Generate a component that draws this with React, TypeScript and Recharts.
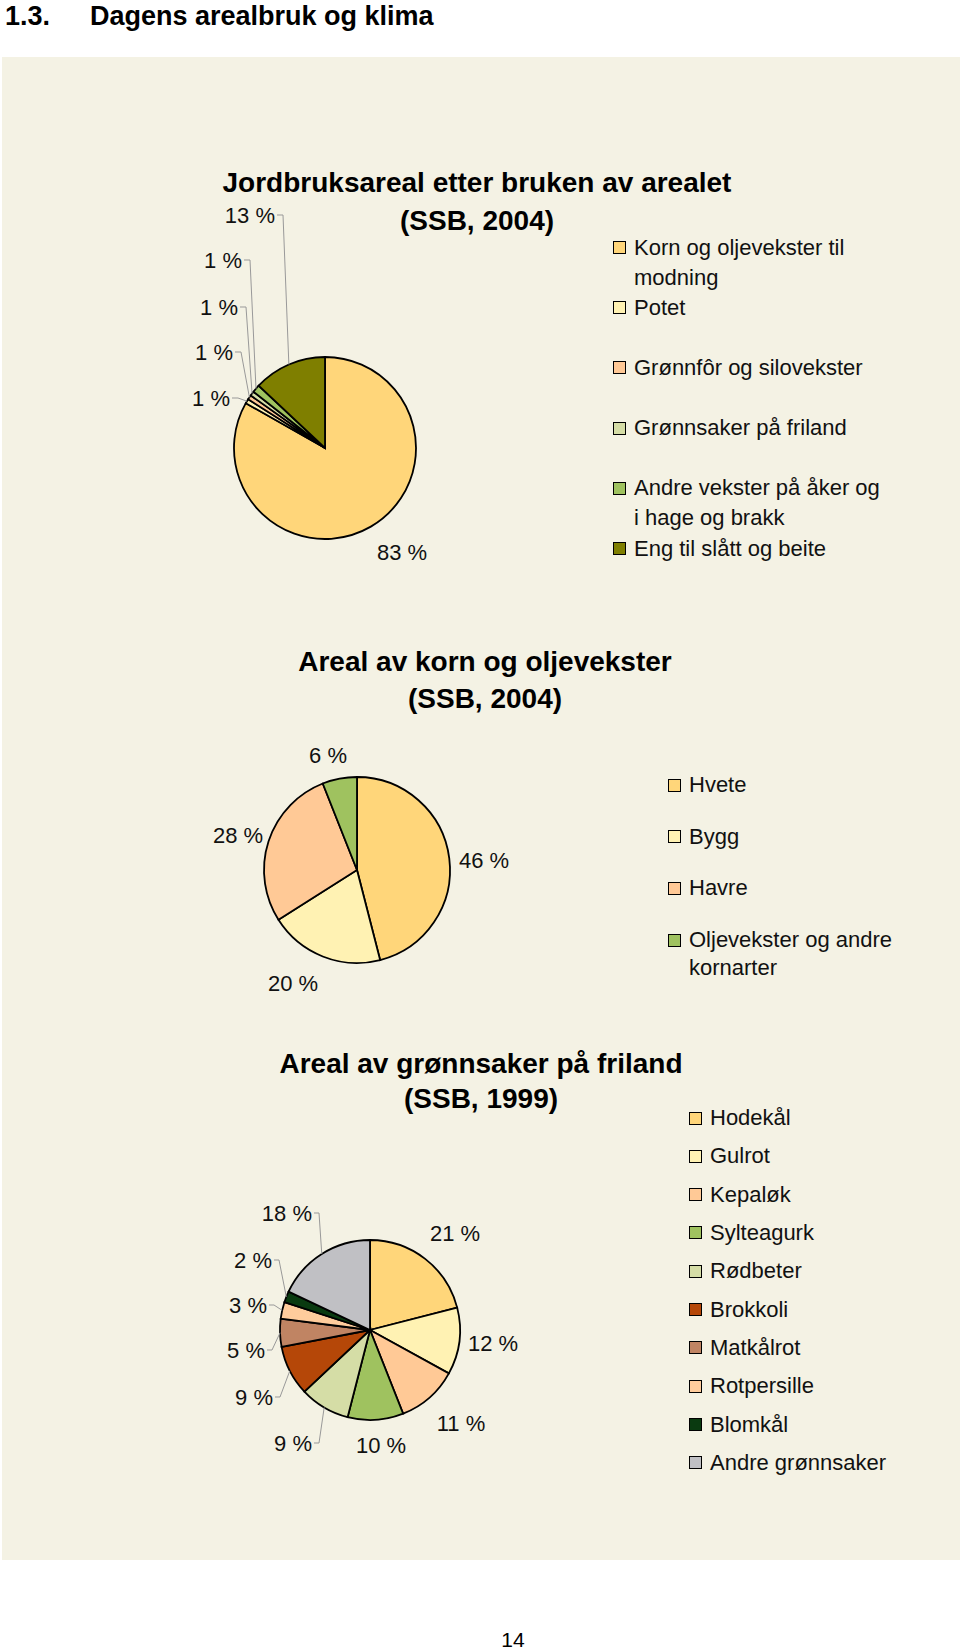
import React from 'react';
import { PieChart, Pie, Cell, Legend } from 'recharts';

const FONT = '"Liberation Sans", Arial, Helvetica, sans-serif';
const BG = '#F4F2E4';

// ---------- Chart 1: Jordbruksareal etter bruken av arealet (SSB, 2004) ----------
const landUseCategories = [
  'Korn og oljevekster til modning',
  'Potet',
  'Grønnfôr og silovekster',
  'Grønnsaker på friland',
  'Andre vekster på åker og i hage og brakk',
  'Eng til slått og beite',
];
const landUseValues = [83.2, 0.8, 0.8, 0.8, 1.4, 13.0];
const landUseColors = ['#FFD67A', '#FFF2B3', '#FFC996', '#D5DDA6', '#9FC25F', '#7F7F00'];

// ---------- Chart 2: Areal av korn og oljevekster (SSB, 2004) ----------
const grainCategories = ['Hvete', 'Bygg', 'Havre', 'Oljevekster og andre kornarter'];
const grainValues = [46, 20, 28, 6];
const grainColors = ['#FFD67A', '#FFF2B3', '#FFC996', '#9FC25F'];

// ---------- Chart 3: Areal av grønnsaker på friland (SSB, 1999) ----------
const vegCategories = [
  'Hodekål',
  'Gulrot',
  'Kepaløk',
  'Sylteagurk',
  'Rødbeter',
  'Brokkoli',
  'Matkålrot',
  'Rotpersille',
  'Blomkål',
  'Andre grønnsaker',
];
const vegValues = [21, 12, 11, 10, 9, 9, 5, 3, 2, 18];
const vegColors = [
  '#FFD67A', '#FFF2B3', '#FFC996', '#9FC25F', '#D5DDA6',
  '#B54708', '#C08463', '#FFCC9C', '#0A3A10', '#C0C0C4',
];

// ---------- label placement (relative to pie centre) ----------
type LabelSpot = { dx: number; dy: number; anchor: 'start' | 'middle' | 'end'; leader: boolean };

const landUseLabelSpots: LabelSpot[] = [
  { dx: 77, dy: 104, anchor: 'middle', leader: false },
  { dx: -95, dy: -50, anchor: 'end', leader: true },
  { dx: -92, dy: -96, anchor: 'end', leader: true },
  { dx: -87, dy: -141, anchor: 'end', leader: true },
  { dx: -83, dy: -188, anchor: 'end', leader: true },
  { dx: -50, dy: -233, anchor: 'end', leader: true },
];
const grainLabelSpots: LabelSpot[] = [
  { dx: 127, dy: -10, anchor: 'middle', leader: false },
  { dx: -64, dy: 113, anchor: 'middle', leader: false },
  { dx: -119, dy: -35, anchor: 'middle', leader: false },
  { dx: -29, dy: -115, anchor: 'middle', leader: false },
];
const vegLabelSpots: LabelSpot[] = [
  { dx: 85, dy: -97, anchor: 'middle', leader: false },
  { dx: 123, dy: 13, anchor: 'middle', leader: false },
  { dx: 91, dy: 93, anchor: 'middle', leader: false },
  { dx: 11, dy: 115, anchor: 'middle', leader: false },
  { dx: -58, dy: 113, anchor: 'end', leader: true },
  { dx: -97, dy: 67, anchor: 'end', leader: true },
  { dx: -105, dy: 20, anchor: 'end', leader: true },
  { dx: -103, dy: -25, anchor: 'end', leader: true },
  { dx: -98, dy: -70, anchor: 'end', leader: true },
  { dx: -58, dy: -117, anchor: 'end', leader: true },
];

const RAD = Math.PI / 180;

function makeLabel(spots: LabelSpot[], values: number[], tick: number) {
  return (props: any) => {
    const { cx, cy, midAngle, outerRadius, index } = props;
    const s = spots[index];
    const x = Number(cx) + s.dx;
    const y = Number(cy) + s.dy;
    let line: React.ReactNode = null;
    if (s.leader) {
      const ax = Number(cx) + outerRadius * Math.cos(-midAngle * RAD);
      const ay = Number(cy) + outerRadius * Math.sin(-midAngle * RAD);
      const sx = x + 2;
      line = (
        <polyline
          points={`${sx},${y} ${sx + tick},${y} ${ax},${ay}`}
          fill="none"
          stroke="#999"
          strokeWidth={1}
        />
      );
    }
    return (
      <g key={`lbl-${index}`}>
        {line}
        <text
          x={x}
          y={y}
          textAnchor={s.anchor}
          dominantBaseline="central"
          fontSize={22}
          fontFamily={FONT}
          fill="#111"
        >
          {`${Math.round(values[index])} %`}
        </text>
      </g>
    );
  };
}

function makeLegend(categories: string[], colors: string[], pitch: number, lineHeight: number, textWidth: number) {
  return () => (
    <div style={{ position: 'relative', fontFamily: FONT, fontSize: 22, color: '#111' }}>
      {categories.map((c, i) => (
        <div
          key={c}
          style={{ position: 'absolute', left: 0, top: i * pitch, display: 'flex', alignItems: 'flex-start' }}
        >
          <div
            style={{
              width: 11,
              height: 11,
              border: '1px solid #000',
              background: colors[i],
              marginTop: (lineHeight - 13) / 2,
              flex: 'none',
            }}
          />
          <div style={{ marginLeft: 8, width: textWidth, lineHeight: `${lineHeight}px`, whiteSpace: 'normal' }}>{c}</div>
        </div>
      ))}
    </div>
  );
}

type PieBlockProps = {
  top: number;
  height: number;
  cx: number;
  cy: number;
  r: number;
  categories: string[];
  values: number[];
  colors: string[];
  spots: LabelSpot[];
  tick: number;
  legendLeft: number;
  legendTop: number;
  pitch: number;
  lineHeight: number;
  textWidth: number;
};

function PieBlock(p: PieBlockProps) {
  const data = p.categories.map((name, i) => ({ name, value: p.values[i] }));
  return (
    <div style={{ position: 'absolute', left: 0, top: p.top }}>
      <PieChart width={960} height={p.height} margin={{ top: 0, right: 0, bottom: 0, left: 0 }}>
        <Pie
          data={data}
          dataKey="value"
          nameKey="name"
          cx={p.cx}
          cy={p.cy}
          outerRadius={p.r}
          startAngle={90}
          endAngle={-270}
          stroke="#000"
          strokeWidth={1.8}
          isAnimationActive={false}
          labelLine={false}
          label={makeLabel(p.spots, p.values, p.tick)}
        >
          {data.map((d, i) => (
            <Cell key={d.name} fill={p.colors[i]} stroke="#000" strokeWidth={1.8} />
          ))}
        </Pie>
        <Legend
          layout="vertical"
          align="right"
          verticalAlign="top"
          content={makeLegend(p.categories, p.colors, p.pitch, p.lineHeight, p.textWidth)}
          wrapperStyle={{ left: p.legendLeft, top: p.legendTop, right: 'auto', bottom: 'auto', width: 320 }}
        />
      </PieChart>
    </div>
  );
}

export default function App() {
  return (
    <div style={{ position: 'absolute', left: 0, top: 0, width: 960, height: 1650, background: '#fff', overflow: 'hidden' }}>
      <div style={{ position: 'absolute', left: 2, top: 57, width: 958, height: 1503, background: BG }} />

      <PieBlock
        top={150}
        height={440}
        cx={325}
        cy={298}
        r={91}
        categories={landUseCategories}
        values={landUseValues}
        colors={landUseColors}
        spots={landUseLabelSpots}
        tick={6}
        legendLeft={613}
        legendTop={82.5}
        pitch={60.2}
        lineHeight={30}
        textWidth={255}
      />
      <PieBlock
        top={630}
        height={390}
        cx={357}
        cy={240}
        r={93}
        categories={grainCategories}
        values={grainValues}
        colors={grainColors}
        spots={grainLabelSpots}
        tick={6}
        legendLeft={668}
        legendTop={141}
        pitch={51.7}
        lineHeight={28}
        textWidth={225}
      />
      <PieBlock
        top={1030}
        height={470}
        cx={370}
        cy={300}
        r={90}
        categories={vegCategories}
        values={vegValues}
        colors={vegColors}
        spots={vegLabelSpots}
        tick={5}
        legendLeft={689}
        legendTop={69}
        pitch={38.33}
        lineHeight={38}
        textWidth={240}
      />

      <svg
        width={960}
        height={1650}
        style={{ position: 'absolute', left: 0, top: 0, pointerEvents: 'none' }}
        fontFamily={FONT}
      >
        <text x={5} y={25} fontSize={27} fontWeight="bold" fill="#000">1.3.</text>
        <text x={90} y={25} fontSize={27} fontWeight="bold" fill="#000">Dagens arealbruk og klima</text>

        <text x={477} y={192} fontSize={28} fontWeight="bold" textAnchor="middle" fill="#000">Jordbruksareal etter bruken av arealet</text>
        <text x={477} y={230} fontSize={28} fontWeight="bold" textAnchor="middle" fill="#000">(SSB, 2004)</text>

        <text x={485} y={671} fontSize={28} fontWeight="bold" textAnchor="middle" fill="#000">Areal av korn og oljevekster</text>
        <text x={485} y={708} fontSize={28} fontWeight="bold" textAnchor="middle" fill="#000">(SSB, 2004)</text>

        <text x={481} y={1073} fontSize={28} fontWeight="bold" textAnchor="middle" fill="#000">Areal av grønnsaker på friland</text>
        <text x={481} y={1108} fontSize={28} fontWeight="bold" textAnchor="middle" fill="#000">(SSB, 1999)</text>

        <text x={513} y={1647} fontSize={21} textAnchor="middle" fill="#000">14</text>
      </svg>
    </div>
  );
}
